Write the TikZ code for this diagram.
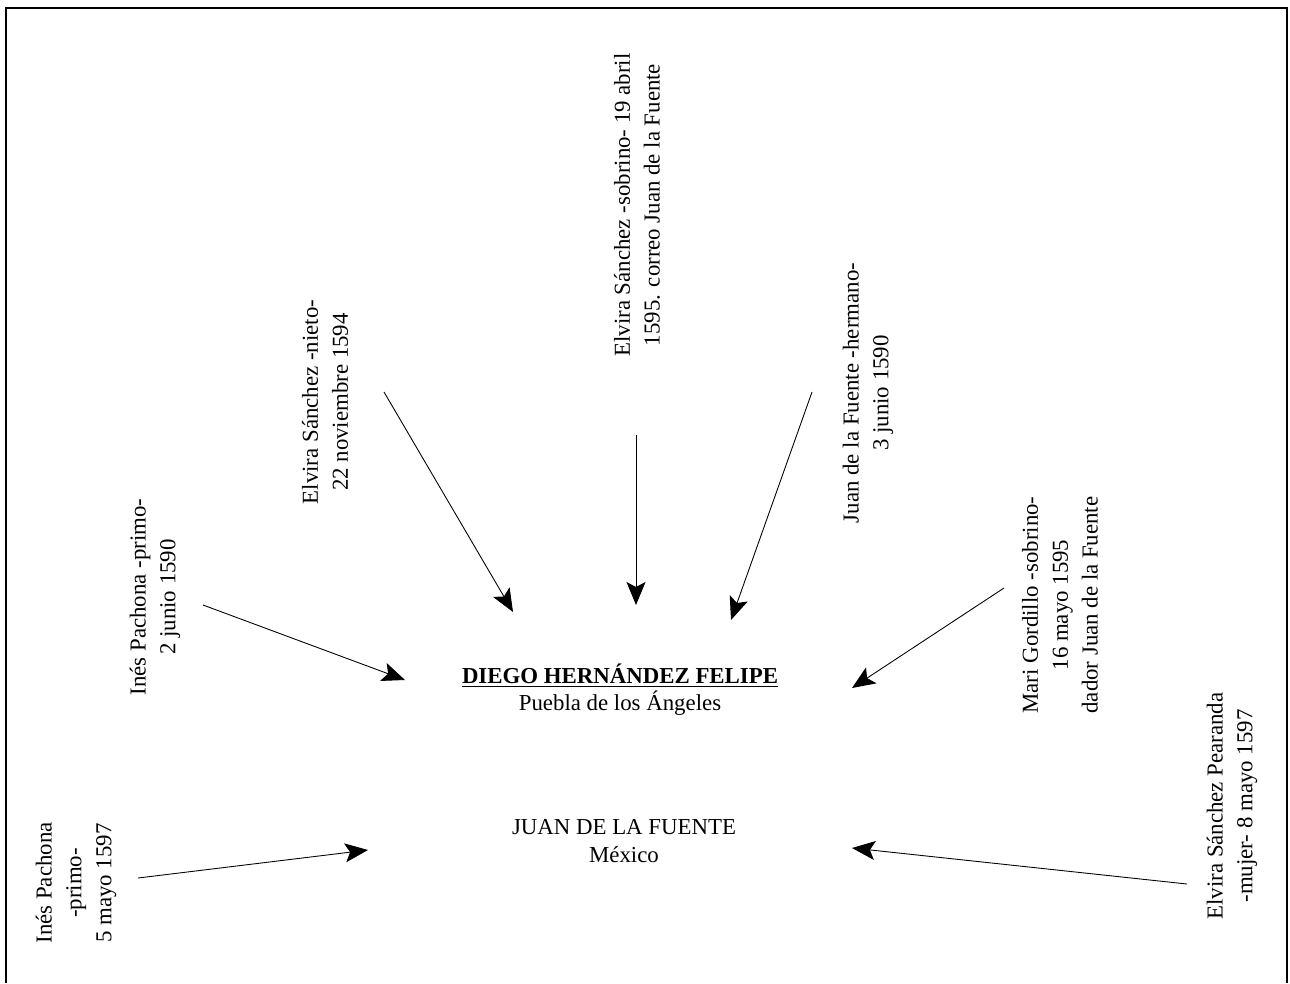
\documentclass[tikz,border=0pt]{standalone}
\usepackage{fontspec}
\setmainfont{Liberation Serif}
\usetikzlibrary{arrows.meta}

\tikzset{
  lbl/.style={rotate=90, align=center, inner sep=0pt, font=\fontsize{13}{17}\selectfont},
  ctr/.style={align=center, inner sep=0pt, font=\fontsize{13}{15.5}\selectfont},
  arr/.style={-{Stealth[length=4.6mm,width=3.8mm,inset=1mm]}, line width=0.5pt},
}

\begin{document}
\begin{tikzpicture}[x=0.02cm,y=-0.02cm]
        \useasboundingbox (0,0) rectangle (1290,983);
        \draw[line width=0.8pt] (6,983) -- (6,8) -- (1287,8) -- (1287,983);

        % centre
        \node[ctr] at (620,690)(diego){\underline{\textbf{DIEGO HERNÁNDEZ FELIPE}}\\Puebla de los Ángeles};
        \node[ctr] at (624,841)(juan){JUAN DE LA FUENTE\\México};

        % letters
        \node[lbl] at (155,597)(ines90){Inés Pachona -primo-\\2 junio 1590};
        \node[lbl] at (325,402)(elvira94){Elvira Sánchez -nieto-\\22 noviembre 1594};
        \node[lbl] at (637,205)(elvira95){Elvira Sánchez -sobrino- 19 abril\\1595. correo Juan de la Fuente};
        \node[lbl] at (868,393)(juan90){Juan de la Fuente -hermano-\\3 junio 1590};
        \node[lbl] at (1060,605)(mari95){Mari Gordillo -sobrino-\\16 mayo 1595\\dador Juan de la Fuente};
        \node[lbl] at (1232,806)(elvira97){Elvira Sánchez Pearanda\\-mujer- 8 mayo 1597};
        \node[lbl] at (76,883)(ines97){Inés Pachona\\-primo-\\5 mayo 1597};

        % arrow ends
        \coordinate (s1) at (203,605);  \coordinate (e1) at (405,680);
        \coordinate (s2) at (384,392);  \coordinate (e2) at (513,612);
        \coordinate (s3) at (636,435);  \coordinate (e3) at (636,605);
        \coordinate (s4) at (812,392);  \coordinate (e4) at (731,620);
        \coordinate (s5) at (1004,588); \coordinate (e5) at (852,688);
        \coordinate (s6) at (1187,884); \coordinate (e6) at (852,848);
        \coordinate (s7) at (138,878);  \coordinate (e7) at (368,850);

        \path[arr]
        (s1)edge(e1)
        (s2)edge(e2)
        (s3)edge(e3)
        (s4)edge(e4)
        (s5)edge(e5)
        (s6)edge(e6)
        (s7)edge(e7)
        ;
\end{tikzpicture}
\end{document}
